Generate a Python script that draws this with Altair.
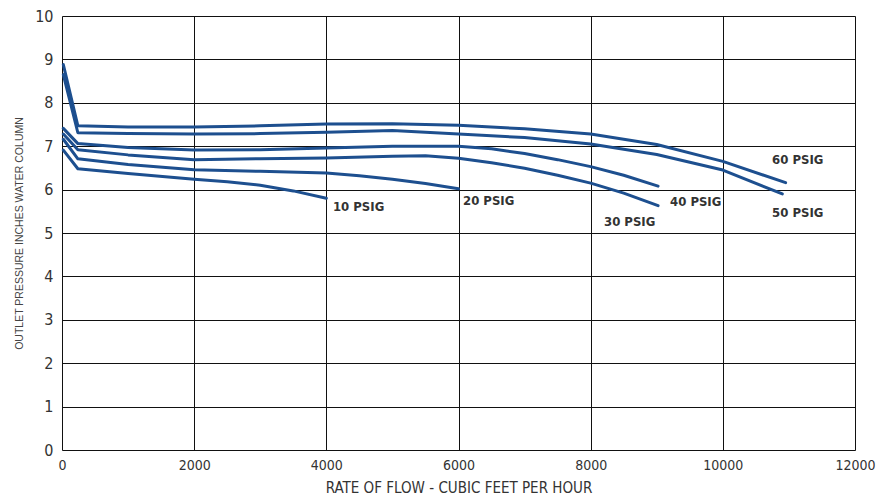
import altair as alt
import pandas as pd

# Regulator flow curves: outlet pressure vs. flow rate, one curve per inlet pressure
series_names = ["60 PSIG", "50 PSIG", "40 PSIG", "30 PSIG", "20 PSIG", "10 PSIG"]

flow_60 = [20, 240, 1000, 2000, 3000, 4000, 5000, 6000, 7000, 8000, 9000, 10000, 10950]
pres_60 = [8.88, 7.47, 7.44, 7.44, 7.47, 7.51, 7.52, 7.48, 7.40, 7.28, 7.04, 6.65, 6.16]

flow_50 = [20, 240, 1000, 2000, 3000, 4000, 5000, 6000, 7000, 8000, 9000, 10000, 10900]
pres_50 = [8.65, 7.31, 7.29, 7.28, 7.29, 7.32, 7.36, 7.28, 7.20, 7.05, 6.81, 6.45, 5.90]

flow_40 = [20, 240, 1000, 2000, 3000, 4000, 5000, 6000, 6500, 7000, 7500, 8000, 8500, 9020]
pres_40 = [7.41, 7.06, 6.97, 6.91, 6.92, 6.96, 7.00, 7.00, 6.94, 6.83, 6.69, 6.53, 6.33, 6.08]

flow_30 = [20, 240, 1000, 2000, 3000, 4000, 5000, 5500, 6000, 6500, 7000, 7500, 8000, 8500, 9020]
pres_30 = [7.28, 6.92, 6.80, 6.69, 6.71, 6.73, 6.77, 6.78, 6.72, 6.62, 6.49, 6.33, 6.15, 5.92, 5.63]

flow_20 = [20, 240, 1000, 2000, 3000, 4000, 4500, 5000, 5500, 6000]
pres_20 = [7.16, 6.71, 6.58, 6.46, 6.42, 6.38, 6.32, 6.24, 6.14, 6.02]

flow_10 = [20, 240, 1000, 2000, 2500, 3000, 3500, 4000]
pres_10 = [6.91, 6.48, 6.37, 6.24, 6.18, 6.10, 5.97, 5.80]

# Curve labels and their anchor points (left edge of text)
label_x = [10745, 10745, 9201, 8202, 6068, 4100]
label_y = [6.68, 5.45, 5.71, 5.26, 5.73, 5.59]

x_ticks = [0, 2000, 4000, 6000, 8000, 10000, 12000]
y_ticks = list(range(0, 11))

flows = [flow_60, flow_50, flow_40, flow_30, flow_20, flow_10]
pressures = [pres_60, pres_50, pres_40, pres_30, pres_20, pres_10]

rows = []
for name, fx, py in zip(series_names, flows, pressures):
    for i, (f, p) in enumerate(zip(fx, py)):
        rows.append({"series": name, "flow": f, "pressure": p, "order": i})
curves = pd.DataFrame(rows)

labels = pd.DataFrame({"series": series_names, "flow": label_x, "pressure": label_y})

FONT = "'Liberation Sans Narrow', 'DejaVu Sans Condensed', 'Roboto Condensed', 'Open Sans', sans-serif"
LINE_BLUE = "#1d4f8f"

x_scale = alt.Scale(domain=[0, 12000], nice=False, zero=True)
y_scale = alt.Scale(domain=[0, 10], nice=False)

lines = alt.Chart(curves).mark_line(color=LINE_BLUE, strokeWidth=3, strokeCap="round",
                                    strokeJoin="round").encode(
    x=alt.X("flow:Q", scale=x_scale,
            axis=alt.Axis(values=x_ticks, title="RATE OF FLOW - CUBIC FEET PER HOUR", format="d",
                          grid=True, gridColor="#111111", gridWidth=1, gridOpacity=1,
                          ticks=False, domain=False, labelPadding=8, labelFontSize=14,
                          labelFont=FONT, labelColor="#333333", titleFont=FONT,
                          titleFontSize=15, titleFontWeight="normal", titleColor="#333333",
                          titlePadding=8, labelFlush=False)),
    y=alt.Y("pressure:Q", scale=y_scale,
            axis=alt.Axis(values=y_ticks, title="OUTLET PRESSURE INCHES WATER COLUMN",
                          grid=True, gridColor="#111111", gridWidth=1, gridOpacity=1,
                          ticks=False, domain=False, labelPadding=9, labelFontSize=16,
                          labelFont=FONT, labelColor="#333333", titleFont="'Liberation Sans', sans-serif",
                          titleFontSize=10.5, titleFontWeight="normal", titleColor="#444444",
                          titlePadding=10, labelFlush=False)),
    detail="series:N",
    order="order:Q",
)

text = alt.Chart(labels).mark_text(align="left", baseline="middle", font=FONT, fontSize=13,
                                   fontWeight="bold", color="#333333").encode(
    x=alt.X("flow:Q", scale=x_scale),
    y=alt.Y("pressure:Q", scale=y_scale),
    text="series:N",
)

chart = (lines + text).properties(
    width=793, height=434,
    autosize=alt.AutoSizeParams(type="none"),
    padding={"left": 62, "top": 16, "right": 30, "bottom": 54},
).configure_view(stroke="#111111", strokeWidth=1.2).configure(background="white")

chart.save("out.html", embed_options={"renderer": "svg", "actions": False})
